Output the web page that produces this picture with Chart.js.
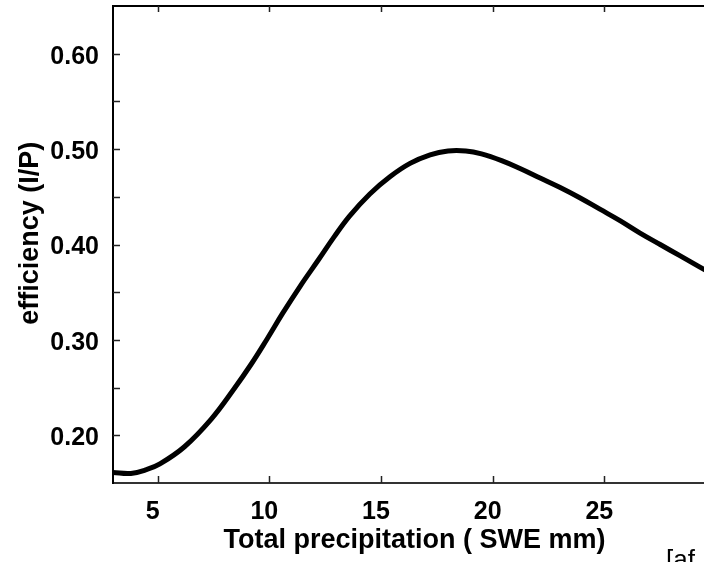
<!DOCTYPE html>
<html>
<head>
<meta charset="utf-8">
<script src="https://cdn.jsdelivr.net/npm/chart.js@4/dist/chart.umd.min.js"></script>
<style>
  html, body { margin: 0; padding: 0; background: #fff; overflow: hidden; }
  #wrap { width: 720px; height: 562px; }
</style>
</head>
<body>
<div id="wrap"><canvas id="c" width="720" height="562"></canvas></div>
<script>
// ---- data ----
const precipitation = [3.0, 3.8, 4.5, 5.1, 6.2, 7.4, 8.4, 9.2, 9.9, 10.6, 11.4, 12.2, 12.9, 13.6, 14.5, 15.4, 16.3, 17.2, 18.0, 18.8, 19.5, 20.4, 21.2, 22.1, 23.0, 23.9, 24.8, 25.7, 26.6, 27.5, 28.4, 29.3, 30.0];
const efficiency = [0.161, 0.160, 0.164, 0.170, 0.188, 0.217, 0.248, 0.275, 0.301, 0.328, 0.357, 0.384, 0.408, 0.430, 0.453, 0.471, 0.485, 0.494, 0.498, 0.498, 0.495, 0.488, 0.480, 0.470, 0.460, 0.449, 0.437, 0.425, 0.412, 0.400, 0.388, 0.376, 0.367];
const xTickValues = [5, 10, 15, 20, 25];
const yTickValues = [0.20, 0.25, 0.30, 0.35, 0.40, 0.45, 0.50, 0.55, 0.60];
const xTitle = 'Total precipitation ( SWE mm)';
const yTitle = '   efficiency (I/P)';
const cornerNote = '[af';

const FONT = '"Liberation Sans", Arial, sans-serif';

const points = precipitation.map((x, i) => ({ x: x, y: efficiency[i] }));

const frame = {
  id: 'frame',
  afterDraw(chart) {
    const ctx = chart.ctx;
    const xs = chart.scales.x, ys = chart.scales.y;
    const a = chart.chartArea;
    ctx.save();
    // top border
    ctx.strokeStyle = '#000';
    ctx.lineWidth = 2;
    ctx.beginPath();
    ctx.moveTo(a.left, a.top);
    ctx.lineTo(a.right + 10, a.top);
    ctx.stroke();
    // inward ticks
    ctx.lineWidth = 1.5;
    ctx.strokeStyle = '#222';
    ctx.beginPath();
    yTickValues.forEach(v => {
      const py = Math.round(ys.getPixelForValue(v)) + 0.5;
      ctx.moveTo(a.left, py);
      ctx.lineTo(a.left + 7, py);
    });
    xTickValues.forEach(v => {
      const px = Math.round(xs.getPixelForValue(v)) + 0.5;
      ctx.moveTo(px, a.bottom);
      ctx.lineTo(px, a.bottom - 7);
      ctx.moveTo(px, a.top);
      ctx.lineTo(px, a.top + 6);
    });
    ctx.stroke();
    // cut-off note at lower right
    ctx.fillStyle = '#000';
    ctx.font = '26px ' + FONT;
    ctx.textBaseline = 'alphabetic';
    ctx.textAlign = 'left';
    ctx.fillText(cornerNote, 666, 568);
    ctx.restore();
  }
};

function noPad(s) {
  s.paddingTop = 0; s.paddingBottom = 0; s.paddingLeft = 0; s.paddingRight = 0;
}

new Chart(document.getElementById('c'), {
  type: 'line',
  data: {
    datasets: [{
      data: points,
      borderColor: '#000',
      borderWidth: 5,
      pointRadius: 0,
      fill: false,
      tension: 0.4
    }]
  },
  options: {
    responsive: false,
    animation: false,
    layout: { padding: { top: 6, right: 4, left: 0, bottom: 0 } },
    plugins: { legend: { display: false }, tooltip: { enabled: false } },
    scales: {
      x: {
        type: 'linear',
        min: 3,
        max: 30,
        afterFit(s) { s.height = 79; noPad(s); },
        afterBuildTicks(s) { s.ticks = xTickValues.map(v => ({ value: v })); },
        grid: { display: false, drawTicks: false },
        border: { display: true, color: '#333', width: 2 },
        ticks: {
          color: '#000',
          font: { family: FONT, size: 25, weight: 'bold' },
          padding: 14,
          labelOffset: -5,
          maxRotation: 0,
          autoSkip: false,
          callback: v => String(v)
        },
        title: {
          display: true,
          text: xTitle,
          color: '#000',
          font: { family: FONT, size: 27, weight: 'bold' },
          padding: { top: 0, bottom: 5 }
        }
      },
      y: {
        type: 'linear',
        min: 0.15,
        max: 0.65,
        afterFit(s) { s.width = 113; noPad(s); },
        afterBuildTicks(s) { s.ticks = yTickValues.filter((v, i) => i % 2 === 0).map(v => ({ value: v })); },
        grid: { display: false, drawTicks: false },
        border: { display: true, color: '#000', width: 2 },
        ticks: {
          color: '#000',
          font: { family: FONT, size: 25, weight: 'bold' },
          padding: 14,
          labelOffset: 3,
          autoSkip: false,
          callback: v => Number(v).toFixed(2)
        },
        title: {
          display: true,
          text: yTitle,
          color: '#000',
          font: { family: FONT, size: 27, weight: 'bold' },
          padding: { top: 14, bottom: 0 }
        }
      }
    }
  },
  plugins: [frame]
});
</script>
</body>
</html>
